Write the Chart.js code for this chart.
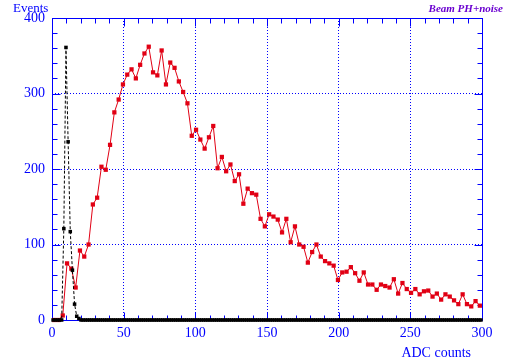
<!DOCTYPE html>
<html>
<head>
<meta charset="utf-8">
<script src="https://cdn.jsdelivr.net/npm/chart.js@4"></script>
<style>
  html, body { margin: 0; padding: 0; background: #fff; }
  canvas { display: block; }
</style>
</head>
<body>
<canvas id="adcChart" width="509" height="364"></canvas>
<script>
// Beam PH+noise: red = beam pulse height, black = pedestal noise
const redBinWidth = 3;
const redCounts = [
    0, 0, 6, 75, 68, 43, 92, 84, 100, 153,
    162, 203, 199, 232, 275, 292, 312, 325, 332, 320,
    338, 353, 362, 328, 324, 357, 312, 341, 334, 316,
    302, 287, 244, 252, 239, 227, 242, 257, 201, 216,
    197, 206, 184, 193, 154, 174, 168, 166, 134, 124,
    140, 137, 133, 116, 134, 103, 124, 100, 97, 76,
    90, 100, 84, 78, 75, 72, 53, 63, 64, 70,
    62, 52, 63, 47, 47, 40, 47, 45, 43, 54,
    35, 49, 41, 36, 41, 34, 38, 39, 31, 35,
    27, 34, 31, 26, 21, 34, 21, 18, 25, 19
];

// noise histogram: 200 bins of 1.5, all empty except the pedestal peak
const noiseBinWidth = 1.5;
const noiseBins = 200;
const noisePeakFirstBin = 5;
const noisePeak = [121, 361, 236, 117, 66, 21, 5, 2];

const xTicks = [0, 50, 100, 150, 200, 250, 300];
const yTicks = [0, 100, 200, 300, 400];

const blue = '#0000ff';
const red = 'rgb(225,0,20)';

const redData = redCounts.map((v, i) => ({ x: (i + 0.5) * redBinWidth, y: v }));
const noiseCounts = new Array(noiseBins).fill(0);
noisePeak.forEach((v, i) => { noiseCounts[noisePeakFirstBin + i] = v; });
const noiseData = noiseCounts.map((v, i) => ({ x: (i + 0.5) * noiseBinWidth, y: v }));

// frame with inward minor ticks plus the loose texts
const framePlugin = {
    id: 'frame',
    beforeDatasetsDraw(chart) {
        const ctx = chart.ctx;
        const a = chart.chartArea;
        const xs = chart.scales.x, ys = chart.scales.y;
        const L = Math.round(a.left) + 0.5, R = Math.round(a.right) + 0.5;
        const T = Math.round(a.top) + 0.5, B = Math.round(a.bottom) + 0.5;
        ctx.save();
        ctx.strokeStyle = blue;
        ctx.lineWidth = 1;
        ctx.beginPath();
        ctx.rect(L, T, R - L, B - T);
        for (let v = 0; v <= 300; v += 10) {
            const px = Math.round(xs.getPixelForValue(v)) + 0.5;
            const len = v % 50 === 0 ? 8 : 5;
            ctx.moveTo(px, B); ctx.lineTo(px, B - len);
            ctx.moveTo(px, T); ctx.lineTo(px, T + len);
        }
        for (let v = 0; v <= 400; v += 20) {
            const py = Math.round(ys.getPixelForValue(v)) + 0.5;
            const len = v % 100 === 0 ? 8 : 5;
            ctx.moveTo(L, py); ctx.lineTo(L + len, py);
            ctx.moveTo(R, py); ctx.lineTo(R - len, py);
        }
        ctx.stroke();
        ctx.restore();
    },
    afterDraw(chart) {
        const ctx = chart.ctx;
        ctx.save();
        ctx.fillStyle = blue;
        ctx.font = '13px "Liberation Serif"';
        ctx.textBaseline = 'alphabetic';
        ctx.textAlign = 'left';
        ctx.fillText('Events', 13, 12);
        ctx.font = '14px "Liberation Serif"';
        ctx.textAlign = 'right';
        ctx.fillText('ADC counts', 471, 357);
        ctx.fillStyle = '#6a00d0';
        ctx.font = 'italic bold 11px "Liberation Serif"';
        ctx.fillText('Beam PH+noise', 503, 12);
        ctx.restore();
    }
};

new Chart(document.getElementById('adcChart'), {
    type: 'scatter',
    data: {
        datasets: [{
            label: 'beam',
            data: redData,
            showLine: true,
            clip: false,
            borderColor: red,
            borderWidth: 1,
            pointStyle: 'rect',
            pointRadius: 3,
            pointBorderWidth: 0,
            pointBackgroundColor: red,
            order: 2
        }, {
            label: 'noise',
            data: noiseData,
            showLine: true,
            clip: false,
            borderColor: '#000',
            borderWidth: 1,
            borderDash: [3, 2],
            pointStyle: 'rect',
            pointRadius: 2.5,
            pointBorderWidth: 0,
            pointBackgroundColor: '#000',
            order: 1
        }]
    },
    options: {
        responsive: false,
        animation: false,
        layout: { padding: { top: 18, right: 27, left: 0, bottom: 0 } },
        plugins: {
            legend: { display: false },
            tooltip: { enabled: false }
        },
        scales: {
            x: {
                type: 'linear',
                min: 0,
                max: 300,
                afterFit: s => { s.height = 44; },
                afterBuildTicks: s => { s.ticks = xTicks.map(v => ({ value: v })); },
                grid: { color: blue, lineWidth: 1, drawTicks: false },
                border: { display: false, dash: [1, 2] },
                ticks: {
                    color: blue,
                    padding: 5,
                    maxRotation: 0,
                    font: { family: 'Liberation Serif', size: 14 }
                }
            },
            y: {
                min: 0,
                max: 400,
                afterFit: s => { s.width = 52; },
                afterBuildTicks: s => { s.ticks = yTicks.map(v => ({ value: v })); },
                grid: { color: blue, lineWidth: 1, drawTicks: false },
                border: { display: false, dash: [1, 2] },
                ticks: {
                    color: blue,
                    padding: 7,
                    font: { family: 'Liberation Serif', size: 14 }
                }
            }
        }
    },
    plugins: [framePlugin]
});
</script>
</body>
</html>
